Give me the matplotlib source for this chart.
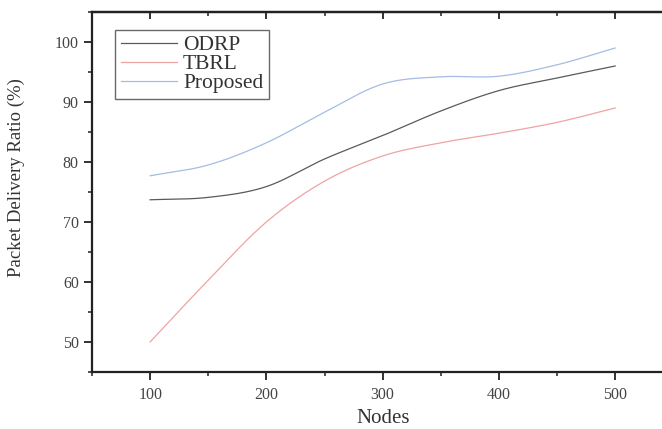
import numpy as np
import matplotlib
matplotlib.use("Agg")
import matplotlib.pyplot as plt
from matplotlib.ticker import MultipleLocator

nodes = [100, 150, 200, 250, 300, 350, 400, 450, 500]
odrp = [73.7, 74.1, 75.9, 80.5, 84.4, 88.5, 91.9, 94.0, 96.0]
tbrl = [50.0, 60.3, 70.0, 76.8, 81.0, 83.2, 84.8, 86.6, 89.0]
proposed = [77.7, 79.5, 83.2, 88.3, 93.0, 94.2, 94.3, 96.2, 99.0]

series_names = ["ODRP", "TBRL", "Proposed"]
series_vals = [odrp, tbrl, proposed]
colors = ["#5a5a5a", "#eea4a4", "#a4bce4"]


def smooth(x, y, n=30):
    """Catmull-Rom rendering of a line through the given points."""
    x = np.asarray(x, float)
    y = np.asarray(y, float)
    px = np.concatenate([[2 * x[0] - x[1]], x, [2 * x[-1] - x[-2]]])
    py = np.concatenate([[2 * y[0] - y[1]], y, [2 * y[-1] - y[-2]]])
    xs, ys = [], []
    t = np.linspace(0, 1, n, endpoint=False)
    for i in range(1, len(px) - 2):
        for arr, out in ((px, xs), (py, ys)):
            p0, p1, p2, p3 = arr[i - 1], arr[i], arr[i + 1], arr[i + 2]
            out.append(0.5 * ((2 * p1) + (-p0 + p2) * t
                              + (2 * p0 - 5 * p1 + 4 * p2 - p3) * t ** 2
                              + (-p0 + 3 * p1 - 3 * p2 + p3) * t ** 3))
    xs.append([x[-1]])
    ys.append([y[-1]])
    return np.concatenate(xs), np.concatenate(ys)


plt.rcParams['font.family'] = ['Liberation Serif', 'DejaVu Serif']

fig = plt.figure(figsize=(6.62, 4.29), dpi=100)
ax = fig.add_axes([0.139, 0.133, 1.017 - 0.139, 0.972 - 0.133])

for name, vals, c in zip(series_names, series_vals, colors):
    sx, sy = smooth(nodes, vals)
    ax.plot(sx, sy, color=c, lw=0.9, label=name)

ax.set_xlim(50, 550)
ax.set_ylim(45, 105)
ax.xaxis.set_major_locator(MultipleLocator(100))
ax.xaxis.set_minor_locator(MultipleLocator(50))
ax.yaxis.set_major_locator(MultipleLocator(10))
ax.yaxis.set_minor_locator(MultipleLocator(5))

for s in ax.spines.values():
    s.set_linewidth(1.6)
    s.set_color("#222222")

ax.tick_params(axis='both', which='major', direction='out', length=6, width=1.3,
               labelsize=11.5, colors="#222222", labelcolor="#444444")
ax.tick_params(axis='both', which='minor', direction='out', length=3, width=1.1,
               colors="#222222")
ax.tick_params(axis='x', which='major', pad=5)

top = ax.secondary_xaxis('top')
top.xaxis.set_major_locator(MultipleLocator(100))
top.xaxis.set_minor_locator(MultipleLocator(50))
top.tick_params(which='major', direction='in', length=5, width=1.3, labeltop=False,
                colors="#222222")
top.tick_params(which='minor', direction='in', length=3, width=1.1, colors="#222222")
top.spines['top'].set_linewidth(1.6)

ax.set_xlabel("Nodes", fontsize=15, color="#333333", labelpad=4)
ax.set_ylabel("Packet Delivery Ratio (%)", fontsize=13.5, color="#333333")
ax.yaxis.set_label_coords(-0.115, 0.54)

leg = ax.legend(loc='upper left', bbox_to_anchor=(0.04, 0.95), fontsize=15.5,
                frameon=True, fancybox=False, edgecolor="#444444",
                handlelength=2.6, handletextpad=0.3, labelspacing=-0.05,
                borderpad=0.25, borderaxespad=0.0)
leg.get_frame().set_linewidth(1.0)
for t in leg.get_texts():
    t.set_color("#333333")

fig.savefig("out.png", dpi=100)
